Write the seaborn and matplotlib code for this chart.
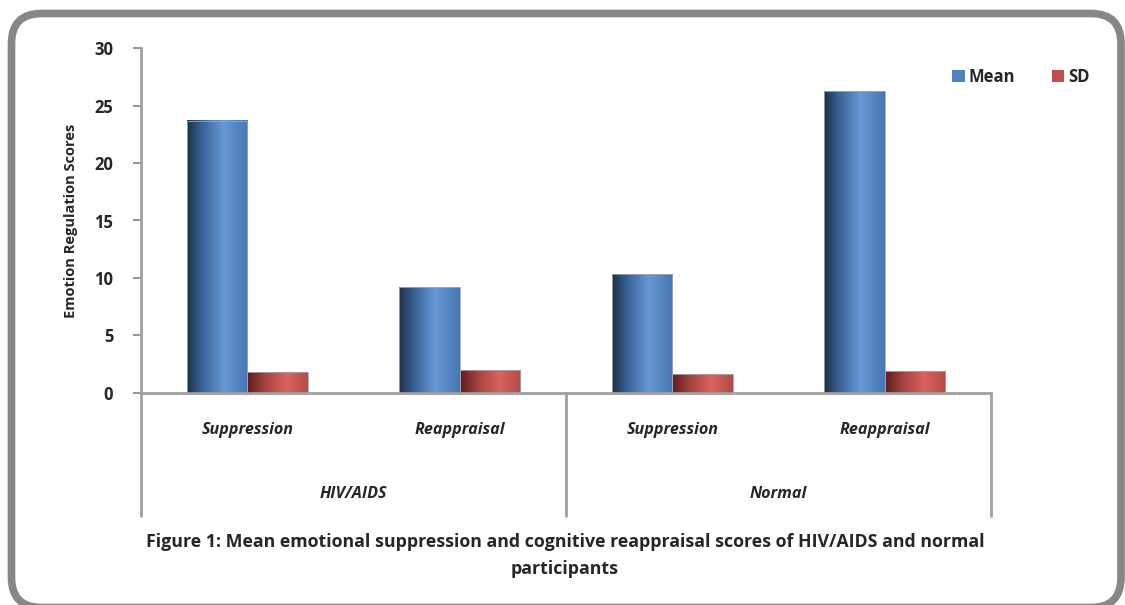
import matplotlib
matplotlib.use("Agg")
import matplotlib.pyplot as plt
from matplotlib.patches import FancyBboxPatch, Patch
from matplotlib.colors import LinearSegmentedColormap
import matplotlib.transforms as mtransforms
import numpy as np
import pandas as pd
import seaborn as sns

# data
groups = ["HIV/AIDS", "HIV/AIDS", "Normal", "Normal"]
strategies = ["Suppression", "Reappraisal", "Suppression", "Reappraisal"]
mean_vals = [23.7, 9.2, 10.3, 26.3]
sd_vals = [1.8, 2.0, 1.6, 1.9]
series = ["Mean", "SD"]
y_ticks = [0, 5, 10, 15, 20, 25, 30]

keys = [g + "|" + s for g, s in zip(groups, strategies)]
df = pd.DataFrame({
    "key": keys * 2,
    "series": ["Mean"] * 4 + ["SD"] * 4,
    "value": mean_vals + sd_vals,
})

sns.set_theme(style="white")
plt.rcParams["font.family"] = ["Open Sans", "DejaVu Sans"]

W, H = 1125, 605
fig = plt.figure(figsize=(W / 100, H / 100), dpi=100)

# rounded grey frame behind everything
bg = fig.add_axes([0, 0, 1, 1], zorder=-5)
bg.set_xlim(0, W)
bg.set_ylim(H, 0)
bg.axis("off")
bg.add_patch(FancyBboxPatch((11.5, 13.5), 1109.5, 594,
                            boxstyle="round,pad=0,rounding_size=30",
                            fc="white", ec="#878787", lw=5.5))

ax = fig.add_axes([141 / W, 1 - 392.7 / H, 850 / W, 344.4 / H])
ax.patch.set_alpha(0)

pal = {"Mean": "#4F81BD", "SD": "#C0504D"}
sns.barplot(data=df, x="key", y="value", hue="series", order=keys,
            hue_order=series, palette=pal, width=0.57, ax=ax,
            legend=False, errorbar=None)

# cylinder-like shading for bars
blue_cm = LinearSegmentedColormap.from_list("b", [
    (0.0, "#1c3048"), (0.25, "#3a6296"), (0.6, "#6699d6"), (1.0, "#4676b2")])
red_cm = LinearSegmentedColormap.from_list("r", [
    (0.0, "#5e1c1c"), (0.3, "#a54441"), (0.65, "#dc625e"), (1.0, "#b24c48")])
grad = np.linspace(0, 1, 256).reshape(1, -1)
for cont, cm in zip(ax.containers, [blue_cm, red_cm]):
    for bar in cont:
        x0, w, h = bar.get_x(), bar.get_width(), bar.get_height()
        ax.imshow(grad, cmap=cm, aspect="auto", extent=[x0, x0 + w, 0, h],
                  zorder=2, interpolation="bilinear")
        bar.set_facecolor("none")
        bar.set_edgecolor("#a8a8a8")
        bar.set_linewidth(0.6)
        bar.set_zorder(3)

ax.set_xlim(-0.5, 3.5)
ax.set_ylim(0, 30)
ax.set_yticks(y_ticks)
ax.set_yticklabels([str(t) for t in y_ticks], fontsize=12, fontweight="bold")
ax.set_xticks([])
ax.set_xlabel("")
ax.set_ylabel("Emotion Regulation Scores", fontsize=10.5, fontweight="bold",
              labelpad=12)
ax.tick_params(axis="y", length=6, width=1.5, color="#999999", pad=14, left=True)
for s in ["top", "right"]:
    ax.spines[s].set_visible(False)
for s in ["left", "bottom"]:
    ax.spines[s].set_color("#a0a0a0")
    ax.spines[s].set_linewidth(2)

# category / group labels beneath the axis
tr = mtransforms.blended_transform_factory(ax.transData, ax.transAxes)
for i, s in enumerate(strategies):
    ax.text(i, -0.108, s, transform=tr, ha="center", va="center",
            fontsize=11.6, fontweight="bold", style="italic")
for xs, g in [(0.5, "HIV/AIDS"), (2.5, "Normal")]:
    ax.text(xs, -0.294, g, transform=tr, ha="center", va="center",
            fontsize=11.6, fontweight="bold", style="italic")
for xs in [-0.5, 1.5, 3.5]:
    ax.plot([xs, xs], [0, -0.358], transform=tr, color="#a0a0a0", lw=2,
            clip_on=False)

# legend
handles = [Patch(facecolor=pal[s], edgecolor="none", label=s) for s in series]
fig.legend(handles=handles, loc="center left",
           bbox_to_anchor=(937 / W, 1 - 77 / H), ncol=2, frameon=False,
           handlelength=0.75, handleheight=0.75, handletextpad=0.25,
           columnspacing=2.2, prop={"weight": "bold", "size": 12})

fig.text(565 / W, 1 - 542 / H,
         "Figure 1: Mean emotional suppression and cognitive reappraisal scores of HIV/AIDS and normal",
         ha="center", va="center", fontsize=12.8, fontweight="bold")
fig.text(565 / W, 1 - 569 / H, "participants",
         ha="center", va="center", fontsize=12.8, fontweight="bold")

fig.savefig("out.png", dpi=100)
